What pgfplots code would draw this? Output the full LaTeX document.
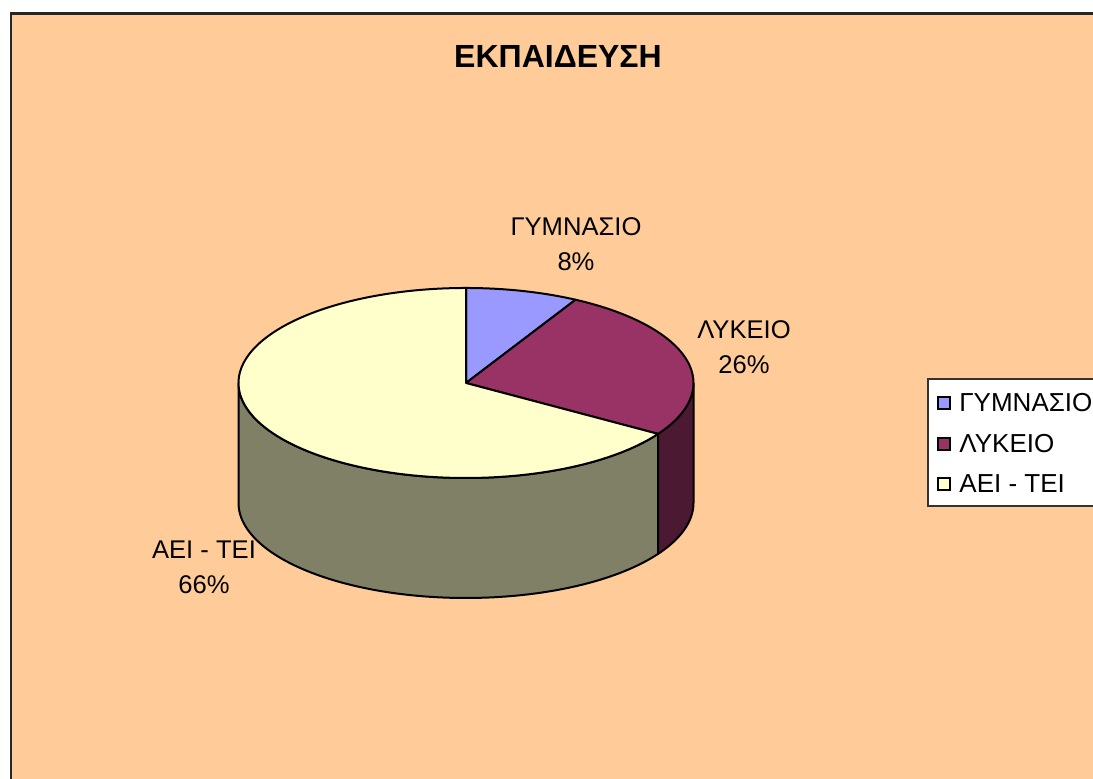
\documentclass[border=0pt]{standalone}
\usepackage{fontspec}
\setmainfont{Liberation Sans}
\usepackage{pgfplots}
\usepackage{pgfplotstable}
\pgfplotsset{compat=1.18}
\definecolor{bg}{HTML}{FFCC99}
\definecolor{cA}{HTML}{9999FF}
\definecolor{cAs}{HTML}{4C4C80}
\definecolor{cB}{HTML}{993366}
\definecolor{cBs}{HTML}{4C1933}
\definecolor{cC}{HTML}{FFFFCC}
\definecolor{cCs}{HTML}{808066}
\pgfplotstableread[col sep=comma]{
name,value
ΓΥΜΝΑΣΙΟ,8
ΛΥΚΕΙΟ,26
ΑΕΙ - ΤΕΙ,66
}\piedata
\pgfplotstablegetelem{0}{value}\of\piedata \let\va\pgfplotsretval
\pgfplotstablegetelem{1}{value}\of\piedata \let\vb\pgfplotsretval
\pgfplotstablegetelem{2}{value}\of\piedata \let\vc\pgfplotsretval
\pgfmathsetmacro\aO{90}
\pgfmathsetmacro\aA{90-3.6*\va}
\pgfmathsetmacro\aB{\aA-3.6*\vb}
\pgfmathsetmacro\aC{\aB-3.6*\vc}
\tikzset{ell/.style={x radius=113.75pt, y radius=47.5pt}}
\begin{document}
\begin{tikzpicture}
\begin{axis}[name=ax, at={(0,0)}, anchor=south west, scale only axis,
  width=546.5pt, height=389.5pt, xmin=0, xmax=1093, ymin=0, ymax=779,
  hide axis, clip=false]
\fill[white] (axis cs:0,0) rectangle (axis cs:1093,779);
\filldraw[fill=bg, draw=black!85, line width=1.2pt] (axis cs:11,-30) rectangle (axis cs:1130,765.5);
% title
\node[font=\fontsize{16}{19}\selectfont\bfseries] at (axis cs:558,722.5) {ΕΚΠΑΙΔΕΥΣΗ};
% side faces
\filldraw[fill=cCs, draw=black, line width=1pt, line join=round]
  (axis cs:466,396) ++(-180:113.75pt and 47.5pt) arc[start angle=-180, end angle=\aB, ell]
  -- ++(0,-60pt) arc[start angle=\aB, end angle=-180, ell] -- cycle;
\filldraw[fill=cBs, draw=black, line width=1pt, line join=round]
  (axis cs:466,396) ++(\aB:113.75pt and 47.5pt) arc[start angle=\aB, end angle=0, ell]
  -- ++(0,-60pt) arc[start angle=0, end angle=\aB, ell] -- cycle;
% top faces
\filldraw[fill=cA, draw=black, line width=1pt, line join=round]
  (axis cs:466,396) -- ++(\aO:113.75pt and 47.5pt) arc[start angle=\aO, end angle=\aA, ell] -- cycle;
\filldraw[fill=cB, draw=black, line width=1pt, line join=round]
  (axis cs:466,396) -- ++(\aA:113.75pt and 47.5pt) arc[start angle=\aA, end angle=\aB, ell] -- cycle;
\filldraw[fill=cC, draw=black, line width=1pt, line join=round]
  (axis cs:466,396) -- ++(\aB:113.75pt and 47.5pt) arc[start angle=\aB, end angle=\aC, ell] -- cycle;
% data labels
\node[align=center, font=\fontsize{12.8}{17.5}\selectfont] at (axis cs:576,534.5) {ΓΥΜΝΑΣΙΟ\\\va\%};
\node[align=center, font=\fontsize{12.8}{17.5}\selectfont] at (axis cs:744,432) {ΛΥΚΕΙΟ\\\vb\%};
\node[align=center, font=\fontsize{12.8}{17.5}\selectfont] at (axis cs:204,212) {ΑΕΙ - ΤΕΙ\\\vc\%};
% legend
\filldraw[fill=white, draw=black!80, line width=0.6pt] (axis cs:928,400) rectangle (axis cs:1120,273);
\filldraw[fill=cA, draw=black, line width=0.6pt] (axis cs:938,382) rectangle (axis cs:950,370);
\filldraw[fill=cB, draw=black, line width=0.6pt] (axis cs:938,341) rectangle (axis cs:950,329);
\filldraw[fill=cC, draw=black, line width=0.6pt] (axis cs:938,301) rectangle (axis cs:950,289);
\node[anchor=west, inner sep=0pt, font=\fontsize{13}{15}\selectfont] at (axis cs:959,376) {ΓΥΜΝΑΣΙΟ};
\node[anchor=west, inner sep=0pt, font=\fontsize{13}{15}\selectfont] at (axis cs:959,335) {ΛΥΚΕΙΟ};
\node[anchor=west, inner sep=0pt, font=\fontsize{13}{15}\selectfont] at (axis cs:959,295) {ΑΕΙ - ΤΕΙ};
\end{axis}
\pgfresetboundingbox
\path[use as bounding box] (ax.south west) rectangle (ax.north east);
\end{tikzpicture}
\end{document}
